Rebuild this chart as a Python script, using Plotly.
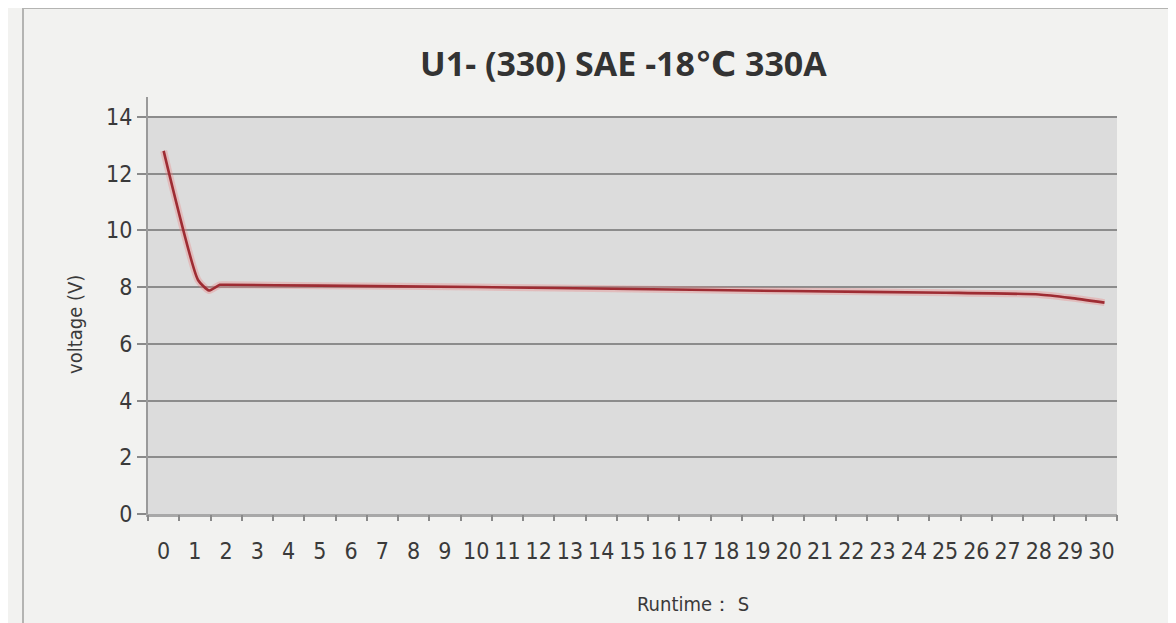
import plotly.graph_objects as go

# ---- data ----
runtime_s = [0, 1.1, 1.45, 1.8, 2, 5, 10, 15, 20, 25, 28, 29, 30.1]
voltage_v = [12.8, 8.25, 7.88, 8.08, 8.08, 8.05, 8.0, 7.93, 7.86, 7.8, 7.74, 7.62, 7.45]
x_tick_labels = [str(i) for i in range(31)]
y_tick_vals = [0, 2, 4, 6, 8, 10, 12, 14]
title_text = "U1- (330) SAE -18\u2103 330A"
x_title = "Runtime\uff1a S"
y_title = "voltage (V)"

OFF = 8  # page body margin offset
L, R, T, B = 148 - OFF, 1117 - OFF, 97 - OFF, 514 - OFF
W, H = 1176, 623

def px(x):
    return (x - OFF - L) / (R - L)

def py(y):
    return (B - (y - OFF)) / (B - T)

narrow = "DejaVu Sans Condensed, Liberation Sans Narrow, Arial Narrow, Liberation Sans, Arial"

fig = go.Figure()
# soft glow under the line
fig.add_trace(go.Scatter(x=runtime_s, y=voltage_v, mode="lines",
                         line=dict(color="rgba(235,130,130,0.35)", width=7, shape="spline", smoothing=0.5),
                         hoverinfo="skip", showlegend=False))
fig.add_trace(go.Scatter(x=runtime_s, y=voltage_v, mode="lines",
                         line=dict(color="#9e2c33", width=2.6, shape="spline", smoothing=0.5),
                         showlegend=False))

shapes = [
    # outer frame
    dict(type="rect", xref="paper", yref="paper", x0=px(23), x1=px(1171), y0=py(660), y1=py(8),
         line=dict(color="#b4b4b2", width=2), fillcolor="rgba(0,0,0,0)", layer="below"),
    # gray plotting band 0..14
    dict(type="rect", xref="paper", yref="y", x0=0, x1=1, y0=0, y1=14,
         line=dict(width=0), fillcolor="#dcdcdc", layer="below"),
]

fig.update_layout(
    width=W, height=H,
    margin=dict(l=L, r=W - R, t=T, b=H - B),
    paper_bgcolor="#f2f2f0",
    plot_bgcolor="rgba(0,0,0,0)",
    shapes=shapes,
    xaxis=dict(range=[-0.5, 30.5], tickmode="array", tickvals=list(range(31)), ticktext=x_tick_labels,
               ticks="", showgrid=False, zeroline=False, showline=True, linecolor="#a8a8a8", linewidth=3,
               ticklabelstandoff=14,
               tickfont=dict(family=narrow, size=23, color="#3a3a3a"), fixedrange=True, tickangle=0),
    xaxis2=dict(range=[-0.5, 30.5], overlaying="x", tickmode="array",
                tickvals=[i - 0.5 for i in range(32)], ticks="outside", ticklen=6, tickwidth=2,
                tickcolor="#8a8a8a", showticklabels=False, showgrid=False, zeroline=False,
                side="bottom", anchor="y"),
    yaxis=dict(range=[0, 14.7], tickmode="array", tickvals=y_tick_vals, ticks="outside", ticklen=9,
               tickwidth=2, tickcolor="#8a8a8a", showgrid=True, gridcolor="#8c8c8c", gridwidth=2,
               zeroline=False, showline=True, linecolor="#9a9a9a", linewidth=2,
               tickfont=dict(family=narrow, size=23, color="#3a3a3a"), fixedrange=True),
    annotations=[
        dict(text="<b>" + title_text + "</b>", xref="paper", yref="paper", x=px(623), y=py(63),
             showarrow=False,
             font=dict(family="Open Sans, DejaVu Sans, sans-serif", size=34, color="#333"),
             xanchor="center", yanchor="middle"),
        dict(text=y_title, xref="paper", yref="paper", x=px(75), y=py(325), showarrow=False, textangle=-90,
             font=dict(family=narrow, size=20, color="#3a3a3a"), xanchor="center", yanchor="middle"),
        dict(text=x_title, xref="paper", yref="paper", x=px(693), y=py(604), showarrow=False,
             font=dict(family=narrow, size=20, color="#3a3a3a"), xanchor="center", yanchor="middle"),
    ],
)
# dummy trace on xaxis2 so ticks render
fig.add_trace(go.Scatter(x=[None], y=[None], xaxis="x2", showlegend=False, hoverinfo="skip"))

fig.write_html("out.html")
